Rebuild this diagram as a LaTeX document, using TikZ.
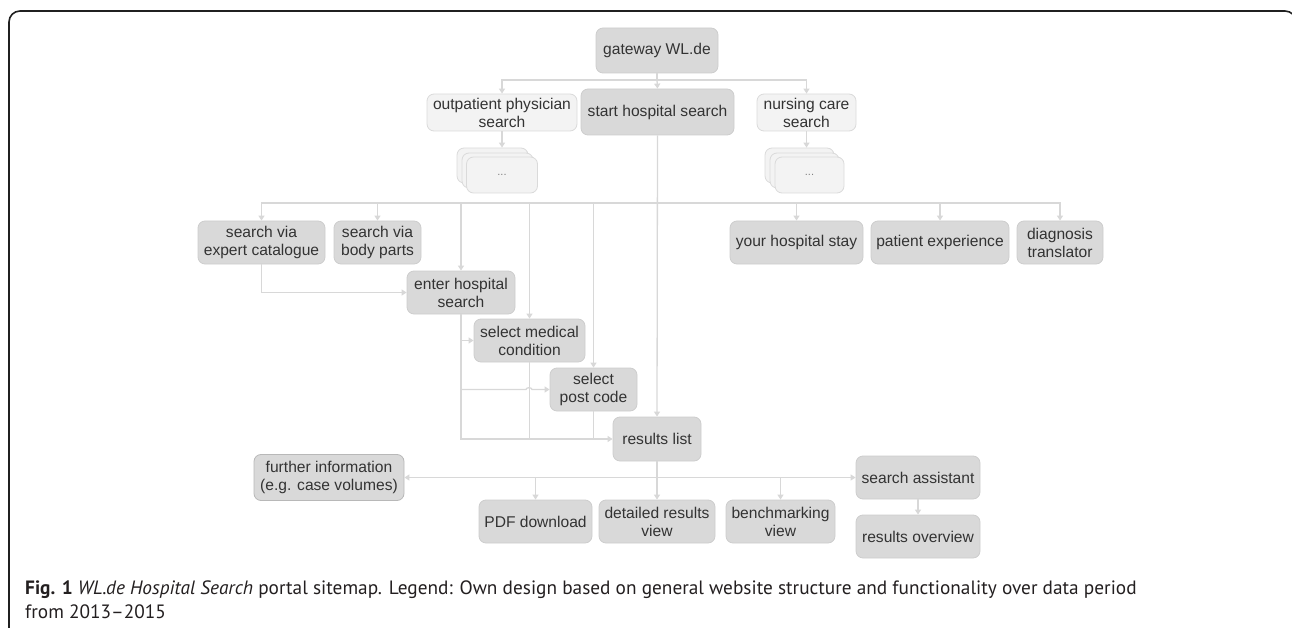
\documentclass[tikz,border=0pt]{standalone}
\usepackage{fontspec}
\setmainfont{Liberation Sans}
\newfontfamily\capfont{PT Sans}
\usetikzlibrary{arrows.meta}
\definecolor{boxfill}{HTML}{D9D9D9}
\definecolor{boxline}{HTML}{CDCDCD}
\definecolor{litefill}{HTML}{F3F3F3}
\definecolor{liteline}{HTML}{DADADA}
\definecolor{conn}{HTML}{D8D8D8}
\definecolor{txt}{HTML}{333333}
\definecolor{framecol}{HTML}{202020}
\definecolor{captxt}{HTML}{231F20}
\definecolor{furtherline}{HTML}{B8B8B8}
\begin{document}
\begin{tikzpicture}[x=1pt,y=-1pt,
  box/.style={draw=boxline, fill=boxfill, rounded corners=7pt, line width=0.8pt, align=center, text=txt, font=\fontsize{15.6}{18}\selectfont, inner sep=0pt},
  lbox/.style={box, fill=litefill, draw=liteline},
  con/.style={draw=conn, line width=1.3pt},
  arr/.style={con, -{Triangle[width=6pt,length=5pt]}},
]
\useasboundingbox (0,0) rectangle (1292,628);
\clip (0,0) rectangle (1292,628);

% frame
\draw[line width=1.6pt, draw=framecol, rounded corners=11pt] (9,660) -- (9,11) -- (1296,11) -- (1296,660);

% top level
\node[box, minimum width=122pt, minimum height=45pt] (gw) at (657,50.5) {gateway WL.de};
\node[lbox, minimum width=150pt, minimum height=37pt] (outp) at (502,112.5) {outpatient physician\\search};
\node[box, minimum width=153pt, minimum height=46pt] (start) at (657.5,112) {start hospital search};
\node[lbox, minimum width=99pt, minimum height=37pt] (nurs) at (806.5,112.5) {nursing care\\search};

% stacks
\node[lbox, minimum width=71pt, minimum height=35pt] (d1c) at (492.5,165.5) {};
\node[lbox, minimum width=71pt, minimum height=35pt] (d1b) at (497.5,170.5) {};
\node[lbox, minimum width=71pt, minimum height=36pt, font=\fontsize{11}{13}\selectfont, text=gray] (d1a) at (502,175) {...};
\node[lbox, minimum width=69pt, minimum height=35pt] (d2c) at (799.5,165.5) {};
\node[lbox, minimum width=69pt, minimum height=35pt] (d2b) at (804.5,170.5) {};
\node[lbox, minimum width=69pt, minimum height=36pt, font=\fontsize{11}{13}\selectfont, text=gray] (d2a) at (809.5,175) {...};

% second level
\node[box, minimum width=127pt, minimum height=43pt] (expert) at (261.5,242.5) {search via\\expert catalogue};
\node[box, minimum width=87pt, minimum height=43pt] (body) at (377.5,242.5) {search via\\body parts};
\node[box, minimum width=133pt, minimum height=43pt] (stay) at (796.5,242.5) {your hospital stay};
\node[box, minimum width=138pt, minimum height=43pt] (pexp) at (940,242.5) {patient experience};
\node[box, minimum width=86pt, minimum height=43pt] (diag) at (1060,242.5) {diagnosis\\translator};

\node[box, minimum width=108pt, minimum height=43pt] (enter) at (461,292.5) {enter hospital\\search};
\node[box, minimum width=111pt, minimum height=43pt] (medcond) at (529.5,340.5) {select medical\\condition};
\node[box, minimum width=87pt, minimum height=43pt] (post) at (593.5,389.5) {select\\post code};
\node[box, minimum width=88pt, minimum height=44pt] (results) at (657,439) {results list};

% bottom level
\node[box, draw=furtherline, minimum width=150pt, minimum height=46pt] (further) at (329,477.5) {further information\\(e.g. case volumes)};
\node[box, minimum width=113pt, minimum height=43pt] (pdf) at (535.5,521.5) {PDF download};
\node[box, minimum width=116pt, minimum height=43pt] (detail) at (657,521.5) {detailed results\\view};
\node[box, minimum width=109pt, minimum height=43pt] (bench) at (780.5,521.5) {benchmarking\\view};
\node[box, minimum width=124pt, minimum height=43pt] (assist) at (918,477.5) {search assistant};
\node[box, minimum width=124pt, minimum height=43pt] (overview) at (918,536.5) {results overview};

% connectors top
\coordinate (busA) at (657,80);
\draw[con] (gw.south) -- (busA);
\draw[arr] (busA) -- (start.north);
\draw[arr] (busA) -| (outp.north);
\draw[arr] (busA) -| (nurs.north);
\draw[arr] (outp.south) -- (outp.south |- d1c.north);
\draw[arr] (nurs.south) -- (nurs.south |- d2c.north);

% main spine
\coordinate (busB) at (657,203);
\draw[arr] (start.south) -- (results.north);
\draw[arr] (busB) -| (expert.north);
\draw[arr] (busB) -| (body.north);
\draw[arr] (busB) -| (enter.north);
\draw[arr] (busB) -| (medcond.north);
\draw[arr] (busB) -| (post.north);
\draw[arr] (busB) -| (stay.north);
\draw[arr] (busB) -| (pexp.north);
\draw[arr] (busB) -| (diag.north);

% search path
\draw[arr] (expert.south) |- (enter.west);
\draw[arr] (enter.south) |- (results.west);
\draw[arr] (enter.south |- medcond.west) -- (medcond.west);
\coordinate (hopA) at (526,389.5);
\coordinate (hopB) at (532,389.5);
\draw[arr] (enter.south |- post.west) -- (hopA) to[out=90,in=90] (hopB) -- (post.west);
\draw[con] (medcond.south) -- (medcond.south |- results.west);
\draw[con] (post.south) -- (post.south |- results.west);

% results fan-out
\coordinate (busC) at (657,477.5);
\draw[con] (results.south) -- (busC);
\draw[arr] (busC) -- (detail.north);
\draw[arr] (busC) -- (further.east);
\draw[arr] (busC) -- (assist.west);
\draw[arr] (busC) -| (pdf.north);
\draw[arr] (busC) -| (bench.north);
\draw[arr] (assist.south) -- (overview.north);

% caption
\node[anchor=base west, inner sep=0pt, text=captxt, font=\capfont\fontsize{19.3}{23}\selectfont] (cap1) at (25,594) {\textbf{Fig. 1} \textit{WL.de Hospital Search} portal sitemap. Legend: Own design based on general website structure and functionality over data period};
\node[anchor=base west, inner sep=0pt, text=captxt, font=\capfont\fontsize{19.3}{23}\selectfont] (cap2) at (25,618) {from 2013–2015};
\end{tikzpicture}
\end{document}
